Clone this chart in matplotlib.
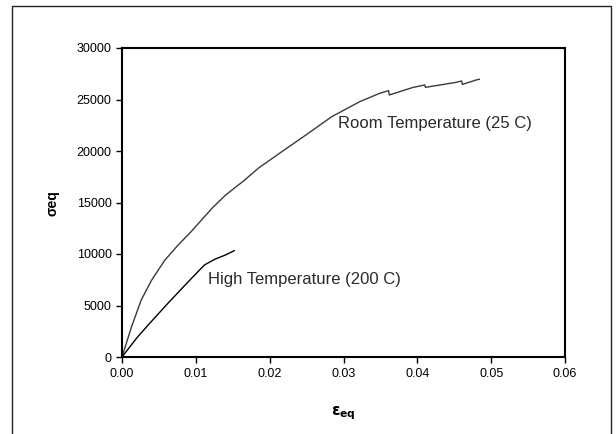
import matplotlib.pyplot as plt
from matplotlib.patches import Rectangle

plt.rcParams['font.family'] = ['Liberation Sans', 'DejaVu Sans']

# room temperature (25 C) curve
room_strain = [0, 0.0013, 0.0026, 0.004, 0.0058, 0.0076, 0.0094, 0.0122, 0.014, 0.0154,
               0.0164, 0.0185, 0.0223, 0.025, 0.0284, 0.0322, 0.0349, 0.0361, 0.0362,
               0.0394, 0.041, 0.0411, 0.0453, 0.046, 0.0461, 0.048, 0.0484]
room_stress = [0, 2950, 5530, 7450, 9400, 10870, 12200, 14450, 15700, 16500,
               17050, 18350, 20260, 21600, 23330, 24790, 25600, 25860, 25440,
               26170, 26410, 26180, 26670, 26800, 26470, 26900, 26960]

# high temperature (200 C) curve
high_strain = [0, 0.002, 0.0036, 0.0062, 0.0085, 0.0101, 0.0112, 0.0126, 0.014, 0.0152]
high_stress = [0, 1850, 3150, 5200, 6950, 8150, 8950, 9500, 9900, 10320]

xticks = [0.00, 0.01, 0.02, 0.03, 0.04, 0.05, 0.06]
yticks = [0, 5000, 10000, 15000, 20000, 25000, 30000]

fig = plt.figure(figsize=(6.16, 4.34), dpi=100)
ax = fig.add_axes([122/616, 77/434, 443/616, 309/434])

ax.plot(room_strain, room_stress, color='#3a3a3a', lw=1)
ax.plot(high_strain, high_stress, color='black', lw=1)

ax.set_xlim(0, 0.06)
ax.set_ylim(0, 30000)
ax.set_xticks(xticks)
ax.set_xticklabels(['%.2f' % t for t in xticks])
ax.set_yticks(yticks)
ax.set_yticklabels([str(t) for t in yticks])
ax.tick_params(direction='out', length=4, width=1, labelsize=9, colors='black')
ax.tick_params(axis='x', pad=4)
for s in ax.spines.values():
    s.set_linewidth(1.5)

ax.text(0.0292, 22700, 'Room Temperature (25 C)', fontsize=12, color='#2a2a2a', va='center')
ax.text(0.0117, 7500, 'High Temperature (200 C)', fontsize=12, color='#2a2a2a', va='center')

fig.text(343/616, 1 - 413/434, r'$\mathbf{\varepsilon_{eq}}$', ha='center', va='center', fontsize=11)
fig.text(53/616, 1 - 203/434, 'σeq', ha='center', va='center', rotation=90,
         fontsize=10, fontweight='bold')

# outer frame
fig.patches.append(Rectangle((12/616, -0.05), 599/616, 1.05 - 6/434, transform=fig.transFigure,
                             fill=False, edgecolor='#222222', lw=1))

fig.savefig('out.png', dpi=100)
